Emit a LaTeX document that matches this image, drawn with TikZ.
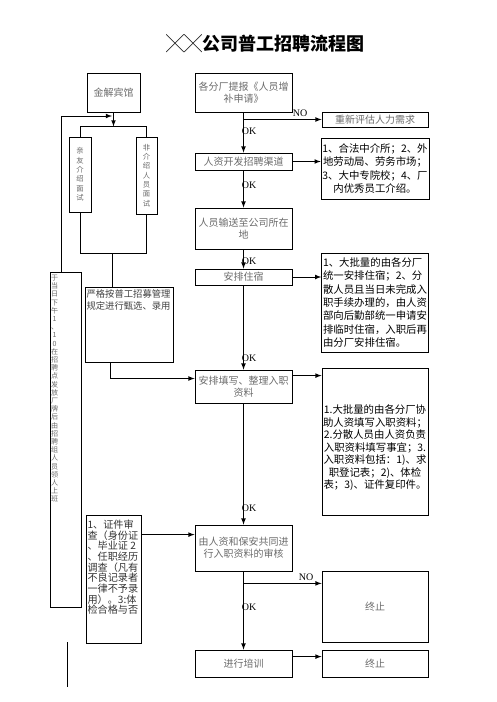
\documentclass[tikz,border=0pt]{standalone}
\usepackage{fontspec}
\setmainfont{Liberation Serif}
\newfontfamily\cjk{Noto Sans CJK SC}
\usepackage{tikz}
\usetikzlibrary{calc}
\definecolor{boxtext}{gray}{0.42}

\begin{document}
\begin{tikzpicture}[x=0.75pt,y=-0.75pt,line width=0.6pt,
    boxsize/.style 2 args={minimum width=#1*0.75pt,minimum height=#2*0.75pt},
    flowbox/.style={draw,inner sep=1pt,font=\cjk\fontsize{7.5}{8.8}\selectfont,text=boxtext,align=center},
    vbox/.style={flowbox,font=\cjk\fontsize{5.5}{7}\selectfont},
    notebox/.style={draw,inner sep=1pt,font=\cjk\fontsize{7.8}{10}\selectfont,align=center},
    vstack/.style={inner sep=0pt,font=\cjk\fontsize{5.3}{6.15}\selectfont,text=boxtext,align=center},
    flowlabel/.style={inner sep=0pt,font=\fontsize{7.5}{9}\selectfont}]
    \useasboundingbox (0,0) rectangle (496,702);
    \draw (265,44) node[font=\cjk\bfseries\fontsize{13.5}{16}\selectfont] (title) {╳╳公司普工招聘流程图};
    % left side
    \draw (113.5,92.5) node[flowbox,boxsize={53}{39}] (hotel) {金解宾馆};
    \draw (80,174.5) node[vbox,boxsize={22}{75}] (friend) {亲\\友\\介\\绍\\面\\试};
    \draw (146.5,175.5) node[vbox,boxsize={21}{77}] (nonref) {非\\介\\绍\\人\\员\\面\\试};
    \draw (65.5,439.5) node[draw,boxsize={31}{335}] (notice) {};
    \draw ($(notice.north west)+(5,3)$) node[vstack,anchor=north] (noticetext) {于\\当\\日\\下\\午\\1\\、\\1\\0\\在\\招\\聘\\点\\发\\放\\厂\\牌\\后\\由\\招\\聘\\组\\人\\员\\领\\人\\上\\班};
    \draw (129,324.5) node[draw,boxsize={88}{75}] (select) {};
    \draw ($(select.north west)+(1.5,3)$) node[anchor=north west,inner sep=0pt,align=left,text=black!75,font=\cjk\fontsize{7}{9}\selectfont] (selecttext) {严格按普工招募管理\\规定进行甄选、录用};
    \draw (113.5,579) node[draw,boxsize={55}{128}] (verify) {};
    \draw ($(verify.north west)+(1.5,5)$) node[anchor=north west,inner sep=0pt,align=left,text=black!80,font=\cjk\fontsize{7.6}{8}\selectfont] (verifytext) {1、证件审\\查（身份证\\、毕业证 2\\、任职经历\\调查（凡有\\不良记录者\\一律不予录\\用）。3:体\\检合格与否};
    % main column
    \draw (243.5,92.5) node[flowbox,boxsize={97}{39}] (apply) {各分厂提报《人员增\\补申请》};
    \draw (243.5,161.5) node[flowbox,boxsize={97}{17}] (channel) {人资开发招聘渠道};
    \draw (243.5,228.5) node[flowbox,boxsize={97}{41}] (transport) {人员输送至公司所在\\地};
    \draw (243.5,277) node[flowbox,boxsize={97}{16}] (lodge) {安排住宿};
    \draw (243.5,386.5) node[flowbox,boxsize={97}{33}] (fill) {安排填写、整理入职\\资料};
    \draw (243.5,548) node[flowbox,boxsize={97}{46}] (check) {由人资和保安共同进\\行入职资料的审核};
    \draw (243.5,663.5) node[flowbox,boxsize={97}{27}] (train) {进行培训};
    % right column
    \draw (375,119.5) node[flowbox,boxsize={106}{15}] (reeval) {重新评估人力需求};
    \draw (375,168.5) node[notebox,boxsize={106}{61}] (sources) {1、合法中介所；2、外\\地劳动局、劳务市场；\\3、大中专院校；4、厂\\内优秀员工介绍。};
    \draw (375,302.5) node[notebox,boxsize={106}{99},align=left] (lodgenote) {1、大批量的由各分厂\\统一安排住宿；2、分\\散人员且当日未完成入\\职手续办理的，由人资\\部向后勤部统一申请安\\排临时住宿，入职后再\\由分厂安排住宿。};
    \draw (375,441.5) node[draw,boxsize={106}{147}] (fillnote) {};
    \draw (375,448) node[inner sep=0pt,align=center,font=\cjk\fontsize{7.8}{9.4}\selectfont] (fillnotetext) {1.大批量的由各分厂协\\助人资填写入职资料；\\2.分散人员由人资负责\\入职资料填写事宜；3.\\入职资料包括：1)、求\\职登记表；2)、体检\\表；3)、证件复印件。};
    \draw (375,606.5) node[flowbox,boxsize={106}{71}] (stopa) {终止};
    \draw (375,663.5) node[flowbox,boxsize={106}{27}] (stopb) {终止};
    % labels
    \draw (300,113) node[flowlabel] (noa) {NO};
    \draw (306,577) node[flowlabel] (nob) {NO};
    \draw (249,131) node[flowlabel] (oka) {OK};
    \draw (249,185) node[flowlabel] (okb) {OK};
    \draw (249,261) node[flowlabel] (okc) {OK};
    \draw (249,358) node[flowlabel] (okd) {OK};
    \draw (249,508) node[flowlabel] (oke) {OK};
    \draw (249,607) node[flowlabel] (okf) {OK};
    % main arrows
    \draw[-latex] (apply) -- (channel);
    \draw[-latex] (apply.south |- reeval.west) -- (reeval.west);
    \draw[-latex] (channel.east) -- (channel.east -| sources.west);
    \draw[-latex] (channel) -- (transport);
    \draw[-latex] (transport) -- (lodge);
    \draw[-latex] (lodge.east) -- (lodge.east -| lodgenote.west);
    \draw[-latex] (lodge) -- (fill);
    \draw[-latex] ($(fill.north east)+(0,6)$) coordinate (fillout) -- (fillout -| fillnote.west);
    \draw[-latex] (fill) -- (check);
    \draw[-latex] ($(verify.north east)+(0,20)$) coordinate (verifyout) -- (verifyout -| check.west);
    \draw[-latex] (check) -- (train);
    \draw[-latex] ($(check.south)+(0,12)$) coordinate (checkno) -- (checkno -| stopa.west);
    \draw[-latex] ($(train.north east)+(0,7)$) coordinate (trainout) -- (trainout -| stopb.west);
    % left arrows
    \draw[-latex] (hotel.south) -- ++(0,14) coordinate (split);
    \draw (friend.north) -- ++(0,-10) -| (nonref.north);
    \draw (friend.south) -- (80,253) coordinate (joinl) -- (nonref.south |- joinl) -- (nonref.south);
    \coordinate (join) at (112,253);
    \draw (join) -- (join |- select.north);
    \coordinate (loopin) at (112,116);
    \draw[-latex] ($(notice.north west)+(12,0)$) |- (loopin);
    \draw[-latex] ($(select.south west)+(26,0)$) |- ($(fill.west)+(0,-8)$);
    \coordinate (stubtop) at (67,642);
    \coordinate (stubbot) at (67,687);
    \draw (stubtop) -- (stubbot);
\end{tikzpicture}
\end{document}
